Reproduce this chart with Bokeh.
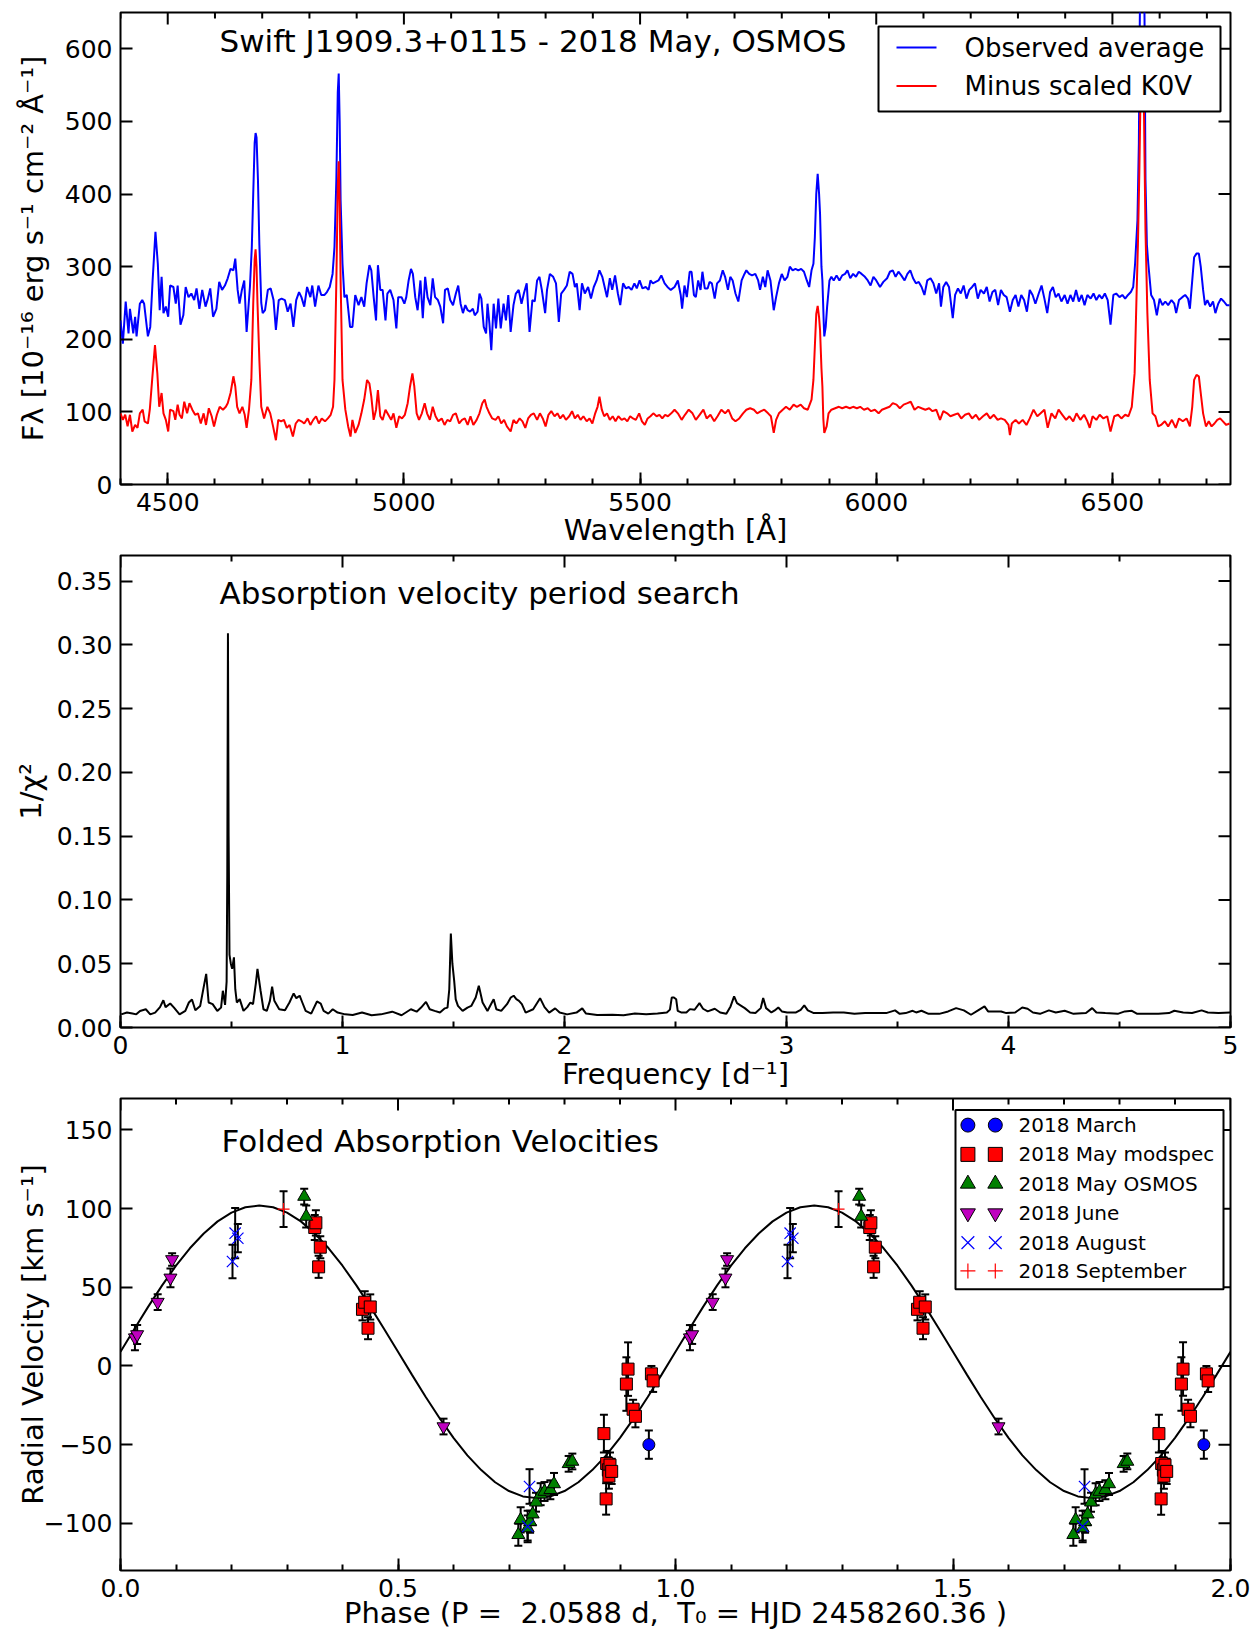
import math
from bokeh.plotting import figure
from bokeh.models import (Label, SingleIntervalTicker, NumeralTickFormatter,
                          CustomJSTickFormatter, Whisker, TeeHead, ColumnDataSource, Range1d)
from bokeh.layouts import column
from bokeh.embed import file_html
from bokeh.resources import INLINE

# ------------------------------------------------------------------ data
blue_wave = [4400, 4405, 4411, 4417, 4420, 4427, 4431, 4434, 4441, 4446, 4450, 4458, 4463, 4468, 4474, 4479, 4483, 4487, 4491, 4496,
             4501, 4505, 4512, 4517, 4521, 4527, 4533, 4538, 4544, 4550, 4556, 4561, 4567, 4573, 4580, 4585, 4590, 4596, 4603, 4609,
             4615, 4621, 4627, 4633, 4639, 4643, 4648, 4652, 4657, 4662, 4667, 4674, 4678, 4681, 4684, 4686, 4688, 4691, 4694, 4698,
             4701, 4706, 4712, 4718, 4724, 4729, 4735, 4741, 4748, 4754, 4760, 4766, 4772, 4778, 4783, 4789, 4795, 4802, 4806, 4812,
             4819, 4825, 4832, 4837, 4843, 4849, 4853, 4857, 4860, 4862, 4864, 4866, 4870, 4874, 4879, 4886, 4891, 4897, 4904, 4910,
             4916, 4921, 4927, 4931, 4936, 4941, 4945, 4950, 4955, 4961, 4965, 4971, 4978, 4984, 4988, 4995, 5001, 5005, 5010, 5015,
             5019, 5024, 5029, 5035, 5040, 5045, 5050, 5056, 5061, 5066, 5072, 5077, 5083, 5087, 5093, 5098, 5104, 5110, 5115, 5120,
             5125, 5130, 5135, 5140, 5146, 5150, 5156, 5160, 5164, 5169, 5174, 5177, 5181, 5185, 5190, 5195, 5200, 5205, 5211, 5216,
             5221, 5226, 5232, 5237, 5243, 5249, 5254, 5260, 5266, 5272, 5277, 5282, 5287, 5292, 5299, 5303, 5309, 5316, 5322, 5328,
             5333, 5339, 5345, 5351, 5357, 5362, 5366, 5372, 5377, 5383, 5390, 5396, 5402, 5408, 5414, 5420, 5425, 5430, 5436, 5441,
             5447, 5453, 5458, 5464, 5470, 5476, 5482, 5488, 5493, 5499, 5505, 5512, 5518, 5522, 5527, 5533, 5539, 5545, 5552, 5558,
             5565, 5573, 5580, 5586, 5589, 5594, 5599, 5605, 5609, 5614, 5618, 5623, 5628, 5632, 5637, 5643, 5647, 5652, 5658, 5663,
             5669, 5675, 5680, 5686, 5691, 5696, 5702, 5708, 5715, 5721, 5725, 5731, 5737, 5744, 5750, 5754, 5760, 5765, 5770, 5776,
             5783, 5788, 5794, 5800, 5806, 5812, 5817, 5823, 5829, 5835, 5841, 5847, 5853, 5858, 5863, 5867, 5870, 5873, 5876, 5879,
             5881, 5884, 5886, 5889, 5890, 5893, 5896, 5901, 5905, 5910, 5916, 5922, 5928, 5934, 5939, 5945, 5951, 5957, 5963, 5969,
             5976, 5982, 5988, 5994, 6000, 6008, 6015, 6023, 6029, 6035, 6041, 6047, 6053, 6060, 6066, 6072, 6078, 6084, 6090, 6096,
             6102, 6108, 6115, 6121, 6127, 6133, 6137, 6142, 6148, 6154, 6162, 6167, 6173, 6179, 6185, 6191, 6197, 6203, 6209, 6215,
             6221, 6228, 6234, 6240, 6246, 6252, 6258, 6264, 6270, 6276, 6283, 6289, 6295, 6301, 6307, 6313, 6319, 6325, 6331, 6337,
             6344, 6350, 6356, 6362, 6368, 6374, 6380, 6386, 6392, 6399, 6405, 6411, 6417, 6423, 6429, 6435, 6441, 6447, 6454, 6460,
             6466, 6472, 6478, 6484, 6490, 6496, 6502, 6508, 6515, 6521, 6527, 6533, 6539, 6544, 6548, 6553, 6556, 6558, 6560, 6563,
             6566, 6568, 6570, 6573, 6576, 6582, 6588, 6594, 6600, 6606, 6612, 6618, 6625, 6631, 6635, 6641, 6648, 6654, 6660, 6664,
             6669, 6673, 6678, 6683, 6687, 6692, 6696, 6701, 6707, 6713, 6718, 6724, 6730, 6736, 6742, 6748]
blue_flux = [226, 194, 252, 208, 242, 208, 231, 204, 249, 254, 249, 204, 217, 281, 348, 304, 240, 286, 236, 245,
             231, 274, 272, 249, 274, 220, 233, 272, 258, 263, 254, 270, 242, 268, 245, 256, 270, 231, 242, 279,
             268, 274, 284, 297, 295, 311, 268, 249, 268, 281, 210, 272, 327, 400, 470, 484, 478, 420, 330, 250,
             236, 240, 268, 270, 254, 213, 254, 256, 254, 238, 249, 217, 254, 265, 258, 245, 272, 258, 274, 245,
             274, 261, 261, 265, 272, 290, 327, 420, 540, 566, 500, 391, 304, 258, 261, 217, 217, 261, 247, 258,
             245, 277, 302, 295, 258, 226, 302, 268, 268, 226, 263, 268, 254, 215, 258, 258, 249, 258, 281, 297,
             290, 258, 240, 281, 229, 286, 258, 247, 284, 258, 254, 245, 222, 268, 270, 254, 247, 263, 274, 249,
             236, 247, 240, 238, 242, 233, 238, 263, 256, 217, 208, 249, 222, 185, 249, 215, 256, 215, 249, 226,
             261, 210, 247, 263, 268, 249, 263, 277, 210, 254, 252, 281, 286, 268, 236, 268, 290, 286, 277, 224,
             263, 268, 274, 293, 290, 272, 277, 240, 277, 263, 272, 256, 272, 281, 295, 286, 272, 258, 284, 268,
             288, 263, 247, 277, 270, 272, 268, 277, 270, 281, 270, 272, 268, 281, 277, 279, 281, 288, 277, 272,
             268, 272, 281, 261, 242, 274, 258, 293, 293, 261, 258, 281, 268, 293, 270, 270, 279, 277, 256, 277,
             281, 295, 286, 268, 286, 281, 263, 252, 281, 290, 295, 290, 288, 290, 281, 268, 286, 272, 295, 281,
             240, 258, 277, 290, 281, 286, 300, 295, 297, 295, 297, 293, 281, 272, 295, 304, 340, 400, 428, 400,
             373, 300, 281, 220, 204, 217, 245, 281, 286, 281, 288, 281, 288, 290, 295, 284, 290, 286, 293, 290,
             286, 281, 274, 286, 281, 272, 279, 284, 293, 295, 286, 293, 288, 281, 290, 295, 284, 277, 279, 272,
             261, 281, 284, 277, 263, 277, 245, 272, 279, 272, 229, 261, 270, 263, 274, 256, 268, 272, 277, 256,
             268, 263, 272, 252, 265, 268, 247, 268, 261, 258, 238, 254, 261, 245, 261, 254, 238, 268, 261, 249,
             263, 274, 256, 236, 265, 272, 258, 263, 252, 261, 249, 261, 252, 268, 252, 261, 247, 261, 256, 263,
             254, 261, 256, 263, 254, 220, 261, 263, 258, 261, 256, 261, 265, 272, 304, 364, 470, 640, 760, 800,
             760, 640, 420, 330, 304, 261, 254, 233, 256, 247, 252, 247, 254, 249, 236, 254, 258, 261, 256, 242,
             281, 313, 318, 318, 300, 268, 247, 254, 245, 252, 236, 249, 256, 252, 247, 247]

red_wave = [4400, 4405, 4410, 4415, 4420, 4425, 4431, 4436, 4441, 4447, 4451, 4458, 4462, 4467, 4473, 4478, 4482, 4487, 4491, 4496,
            4501, 4505, 4512, 4516, 4521, 4525, 4530, 4535, 4541, 4546, 4552, 4558, 4564, 4570, 4576, 4581, 4587, 4593, 4598, 4604,
            4610, 4617, 4623, 4627, 4633, 4639, 4643, 4647, 4652, 4658, 4663, 4667, 4672, 4677, 4681, 4684, 4686, 4688, 4690, 4694,
            4698, 4704, 4711, 4717, 4723, 4729, 4734, 4740, 4746, 4752, 4758, 4765, 4771, 4777, 4783, 4789, 4796, 4802, 4808, 4814,
            4820, 4826, 4833, 4839, 4845, 4850, 4853, 4857, 4860, 4862, 4864, 4866, 4870, 4876, 4882, 4887, 4891, 4897, 4904, 4910,
            4916, 4922, 4927, 4931, 4936, 4941, 4945, 4950, 4955, 4961, 4967, 4973, 4978, 4984, 4990, 4996, 5002, 5008, 5013, 5018,
            5022, 5027, 5032, 5038, 5044, 5049, 5055, 5061, 5067, 5073, 5080, 5086, 5092, 5098, 5104, 5110, 5117, 5123, 5129, 5135,
            5141, 5147, 5154, 5160, 5166, 5171, 5175, 5181, 5187, 5194, 5200, 5206, 5212, 5218, 5226, 5232, 5238, 5245, 5251, 5257,
            5263, 5269, 5275, 5282, 5288, 5294, 5300, 5306, 5312, 5319, 5325, 5331, 5337, 5343, 5350, 5356, 5362, 5368, 5374, 5380,
            5387, 5393, 5399, 5405, 5410, 5414, 5419, 5424, 5430, 5436, 5442, 5448, 5454, 5461, 5467, 5473, 5479, 5485, 5491, 5498,
            5504, 5510, 5516, 5522, 5528, 5535, 5541, 5547, 5553, 5559, 5566, 5573, 5580, 5588, 5595, 5603, 5611, 5618, 5626, 5634,
            5641, 5649, 5657, 5664, 5672, 5680, 5687, 5695, 5702, 5710, 5718, 5725, 5733, 5741, 5748, 5756, 5763, 5771, 5777, 5783,
            5788, 5794, 5802, 5809, 5817, 5825, 5832, 5840, 5847, 5855, 5863, 5867, 5870, 5873, 5876, 5879, 5881, 5884, 5886, 5888,
            5890, 5895, 5899, 5905, 5913, 5921, 5928, 5936, 5944, 5951, 5959, 5966, 5974, 5982, 5989, 5997, 6005, 6012, 6020, 6028,
            6035, 6043, 6050, 6058, 6066, 6073, 6081, 6089, 6096, 6104, 6112, 6119, 6127, 6135, 6142, 6150, 6157, 6165, 6173, 6180,
            6188, 6196, 6203, 6211, 6218, 6226, 6234, 6241, 6249, 6257, 6264, 6272, 6280, 6283, 6287, 6295, 6302, 6310, 6318, 6325,
            6333, 6341, 6348, 6356, 6363, 6371, 6379, 6386, 6394, 6402, 6409, 6417, 6424, 6432, 6440, 6447, 6452, 6458, 6466, 6473,
            6481, 6489, 6496, 6504, 6512, 6519, 6527, 6534, 6541, 6547, 6551, 6554, 6557, 6560, 6563, 6566, 6568, 6570, 6574, 6579,
            6585, 6591, 6597, 6603, 6611, 6618, 6626, 6634, 6641, 6649, 6657, 6664, 6669, 6673, 6678, 6683, 6687, 6692, 6698, 6704,
            6710, 6716, 6722, 6728, 6734, 6741, 6748]
red_flux = [98, 89, 96, 80, 96, 73, 82, 78, 98, 103, 87, 84, 103, 144, 192, 153, 107, 126, 98, 89,
            73, 103, 101, 89, 110, 96, 91, 114, 98, 112, 103, 96, 98, 84, 98, 82, 105, 94, 80, 96,
            107, 103, 107, 112, 126, 149, 135, 107, 98, 107, 96, 78, 103, 144, 249, 310, 324, 300, 250, 171,
            107, 91, 107, 98, 80, 61, 89, 87, 89, 78, 82, 66, 84, 89, 87, 84, 91, 82, 89, 94,
            84, 91, 87, 91, 96, 107, 144, 281, 410, 445, 390, 281, 144, 103, 80, 66, 89, 71, 82, 98,
            117, 144, 139, 121, 89, 103, 130, 94, 89, 103, 96, 89, 98, 78, 94, 91, 96, 112, 135, 153,
            135, 98, 89, 98, 112, 98, 89, 107, 94, 87, 91, 82, 89, 87, 96, 98, 84, 89, 91, 82,
            94, 82, 89, 98, 112, 117, 107, 98, 91, 89, 94, 84, 89, 80, 73, 89, 84, 91, 87, 78,
            91, 96, 98, 89, 98, 91, 80, 96, 101, 94, 98, 91, 96, 89, 94, 101, 91, 96, 89, 94,
            87, 91, 84, 98, 107, 121, 103, 94, 98, 89, 94, 87, 94, 89, 91, 87, 94, 91, 89, 98,
            87, 82, 91, 94, 98, 94, 96, 91, 96, 94, 98, 103, 98, 89, 96, 103, 98, 89, 96, 103,
            91, 96, 87, 94, 103, 98, 103, 91, 87, 91, 98, 103, 105, 103, 98, 101, 103, 98, 94, 71,
            89, 98, 103, 107, 103, 110, 107, 110, 105, 103, 117, 144, 190, 235, 246, 230, 213, 160, 135, 90,
            71, 80, 98, 103, 105, 107, 105, 107, 105, 107, 105, 107, 103, 105, 101, 103, 98, 103, 105, 107,
            112, 110, 105, 110, 112, 114, 103, 107, 105, 103, 105, 101, 103, 89, 101, 98, 94, 96, 98, 91,
            96, 98, 91, 96, 89, 94, 98, 91, 96, 89, 91, 89, 82, 68, 84, 89, 84, 89, 82, 91,
            103, 94, 98, 103, 78, 98, 91, 103, 96, 89, 94, 87, 98, 89, 96, 87, 78, 94, 89, 96,
            91, 94, 73, 94, 96, 91, 96, 94, 107, 153, 258, 330, 430, 560, 610, 560, 450, 350, 236, 144,
            98, 94, 80, 82, 87, 80, 89, 78, 91, 87, 91, 80, 107, 144, 151, 149, 126, 98, 80, 87,
            80, 84, 89, 91, 87, 82, 84]

freq = [0.003, 0.029, 0.054, 0.071, 0.088, 0.114, 0.134, 0.156, 0.178, 0.193, 0.203, 0.224, 0.241, 0.266, 0.292, 0.308,
        0.322, 0.337, 0.359, 0.373, 0.386, 0.397, 0.415, 0.436, 0.453, 0.461, 0.471, 0.478, 0.481, 0.484, 0.487, 0.491,
        0.497, 0.503, 0.511, 0.517, 0.524, 0.537, 0.554, 0.571, 0.585, 0.597, 0.610, 0.617, 0.631, 0.644, 0.659, 0.673,
        0.683, 0.693, 0.715, 0.741, 0.761, 0.780, 0.792, 0.807, 0.819, 0.834, 0.859, 0.885, 0.902, 0.915, 0.936, 0.956,
        0.978, 1.012, 1.046, 1.088, 1.131, 1.173, 1.224, 1.266, 1.308, 1.334, 1.354, 1.376, 1.393, 1.415, 1.439, 1.461,
        1.473, 1.481, 1.488, 1.495, 1.503, 1.510, 1.520, 1.541, 1.563, 1.580, 1.600, 1.614, 1.631, 1.653, 1.673, 1.681,
        1.693, 1.715, 1.741, 1.758, 1.771, 1.783, 1.795, 1.808, 1.825, 1.859, 1.890, 1.910, 1.931, 1.958, 1.978, 2.012,
        2.054, 2.080, 2.097, 2.147, 2.215, 2.266, 2.317, 2.368, 2.419, 2.461, 2.475, 2.483, 2.493, 2.503, 2.510, 2.525,
        2.549, 2.565, 2.586, 2.608, 2.624, 2.645, 2.677, 2.701, 2.729, 2.748, 2.764, 2.777, 2.796, 2.812, 2.836, 2.860,
        2.884, 2.895, 2.908, 2.932, 2.947, 2.963, 2.979, 3.003, 3.043, 3.064, 3.080, 3.096, 3.123, 3.162, 3.210, 3.258,
        3.306, 3.354, 3.409, 3.449, 3.489, 3.510, 3.537, 3.568, 3.584, 3.608, 3.640, 3.688, 3.728, 3.764, 3.799, 3.831,
        3.863, 3.892, 3.908, 3.935, 3.967, 3.990, 4.030, 4.062, 4.086, 4.110, 4.142, 4.182, 4.213, 4.253, 4.293, 4.349,
        4.377, 4.396, 4.436, 4.492, 4.524, 4.556, 4.580, 4.627, 4.675, 4.723, 4.747, 4.787, 4.827, 4.870, 4.898, 4.946,
        5.000]
power = [0.0103, 0.0117, 0.0109, 0.0103, 0.0130, 0.0143, 0.0103, 0.0117, 0.0160, 0.0214, 0.0160, 0.0188, 0.0156, 0.0103, 0.0130, 0.0196,
         0.0220, 0.0135, 0.0169, 0.0301, 0.0420, 0.0196, 0.0183, 0.0130, 0.0156, 0.0288, 0.0177, 0.0360, 0.1200, 0.3090, 0.1500, 0.0570,
         0.0500, 0.0460, 0.0550, 0.0300, 0.0196, 0.0222, 0.0130, 0.0160, 0.0196, 0.0183, 0.0350, 0.0459, 0.0288, 0.0143, 0.0130, 0.0209,
         0.0320, 0.0209, 0.0143, 0.0135, 0.0196, 0.0267, 0.0230, 0.0249, 0.0196, 0.0130, 0.0109, 0.0204, 0.0188, 0.0130, 0.0109, 0.0143,
         0.0117, 0.0103, 0.0098, 0.0117, 0.0096, 0.0103, 0.0124, 0.0096, 0.0143, 0.0124, 0.0156, 0.0201, 0.0143, 0.0130, 0.0117, 0.0150,
         0.0156, 0.0300, 0.0737, 0.0500, 0.0367, 0.0220, 0.0169, 0.0130, 0.0156, 0.0169, 0.0235, 0.0328, 0.0196, 0.0130, 0.0196, 0.0222,
         0.0143, 0.0130, 0.0183, 0.0235, 0.0249, 0.0222, 0.0209, 0.0183, 0.0117, 0.0143, 0.0230, 0.0160, 0.0117, 0.0150, 0.0117, 0.0103,
         0.0117, 0.0150, 0.0109, 0.0098, 0.0100, 0.0096, 0.0109, 0.0103, 0.0109, 0.0117, 0.0140, 0.0235, 0.0235, 0.0222, 0.0130, 0.0118,
         0.0118, 0.0144, 0.0139, 0.0191, 0.0147, 0.0126, 0.0147, 0.0118, 0.0107, 0.0165, 0.0244, 0.0191, 0.0170, 0.0152, 0.0118, 0.0113,
         0.0152, 0.0231, 0.0152, 0.0118, 0.0134, 0.0157, 0.0126, 0.0118, 0.0118, 0.0139, 0.0173, 0.0134, 0.0113, 0.0113, 0.0118, 0.0118,
         0.0107, 0.0113, 0.0113, 0.0113, 0.0134, 0.0107, 0.0113, 0.0131, 0.0118, 0.0131, 0.0107, 0.0107, 0.0126, 0.0152, 0.0134, 0.0100,
         0.0134, 0.0165, 0.0126, 0.0126, 0.0126, 0.0113, 0.0118, 0.0157, 0.0147, 0.0118, 0.0107, 0.0134, 0.0118, 0.0131, 0.0107, 0.0113,
         0.0152, 0.0118, 0.0113, 0.0107, 0.0126, 0.0131, 0.0107, 0.0107, 0.0107, 0.0113, 0.0131, 0.0118, 0.0113, 0.0134, 0.0118, 0.0113,
         0.0118]

# fitted radial-velocity curve, one cycle (phase, km/s), repeated for the second cycle
fit_phase = [0.000, 0.025, 0.050, 0.075, 0.100, 0.125, 0.150, 0.175, 0.200, 0.225, 0.250, 0.275, 0.300, 0.325,
             0.350, 0.375, 0.400, 0.425, 0.450, 0.475, 0.500, 0.525, 0.550, 0.575, 0.600, 0.625, 0.650, 0.675,
             0.700, 0.725, 0.750, 0.775, 0.800, 0.825, 0.850, 0.875, 0.900, 0.925, 0.950, 0.975, 1.000]
fit_rv = [9.0, 23.5, 37.7, 51.2, 63.7, 74.8, 84.2, 91.9, 97.5, 100.9, 102.0, 100.9, 97.5, 91.9,
          84.2, 74.8, 63.7, 51.2, 37.7, 23.5, 9.0, -5.5, -19.7, -33.2, -45.7, -56.8, -66.2, -73.9,
          -79.5, -82.9, -84.0, -82.9, -79.5, -73.9, -66.2, -56.8, -45.7, -33.2, -19.7, -5.5, 9.0]

march_phase = [0.952]
march_rv = [-50.0]
march_err = [9.0]

modspec_phase = [0.350, 0.352, 0.360, 0.357, 0.436, 0.440, 0.446, 0.450, 0.871, 0.876, 0.879, 0.882, 0.880, 0.885,
                 0.875, 0.9115, 0.9145, 0.9236, 0.9278, 0.9566, 0.9597]
modspec_rv = [88.0, 91.0, 75.5, 63.0, 36.0, 40.5, 24.0, 37.5, -43.0, -62.0, -66.0, -63.0, -70.0, -67.0,
              -84.5, -11.5, -2.0, -27.5, -32.0, -5.0, -9.5]
modspec_err = [8, 8, 7, 7, 7, 7, 7, 8, 12, 8, 8, 8, 8, 8, 10, 17, 17, 6, 7, 5, 7]

osmos_phase = [0.331, 0.3346, 0.7168, 0.721, 0.7336, 0.738, 0.7427, 0.7487, 0.757, 0.764, 0.7745, 0.7811, 0.8075, 0.8141]
osmos_rv = [107.7, 95.0, -107.3, -97.8, -103.0, -99.0, -94.2, -86.6, -81.5, -79.8, -78.7, -75.0, -62.2, -60.7]
osmos_err = [5, 7, 7, 8, 8, 7, 7, 6, 7, 6, 6, 7, 5, 5]

june_phase = [0.026, 0.030, 0.067, 0.090, 0.093, 0.582]
june_rv = [18.0, 20.0, 40.6, 56.0, 67.7, -38.5]
june_err = [8, 6, 5, 6, 4, 5]

august_phase = [0.2018, 0.2066, 0.2114, 0.737, 0.7336]
august_rv = [66.4, 84.4, 81.2, -76.6, -102.0]
august_err = [10.6, 16.0, 9.0, 11.0, 10.0]

september_phase = [0.2938]
september_rv = [99.7]
september_err = [11.4]

# ------------------------------------------------------------------ layout helpers
FONT = "DejaVu Sans"
PAGE_W = 1252
FL, FR = 120, 1230          # frame left / right (page px)
FH = 472                    # frame height
NBSP = "\u00a0"


def dx(px, xr):
    return xr[0] + (px - FL) * (xr[1] - xr[0]) / (FR - FL)


def dy(py, ftop, yr):
    return yr[1] - (py - ftop) * (yr[1] - yr[0]) / FH


def style_axis(ax, ticker, formatter, label, label_standoff):
    ax.ticker = ticker
    ax.formatter = formatter
    ax.major_tick_in = 12
    ax.major_tick_out = 0
    ax.minor_tick_in = 6
    ax.minor_tick_out = 0
    ax.major_tick_line_width = 2
    ax.minor_tick_line_width = 2
    ax.major_tick_line_color = "black"
    ax.minor_tick_line_color = "black"
    ax.axis_line_color = None
    ax.major_label_text_font = FONT
    ax.major_label_text_color = "black"
    ax.major_label_text_font_size = "25px"
    ax.major_label_standoff = 8
    ax.axis_label = label
    ax.axis_label_text_font = FONT
    ax.axis_label_text_font_size = "29px"
    ax.axis_label_text_font_style = "normal"
    ax.axis_label_text_color = "black"
    ax.axis_label_standoff = label_standoff


def make_fig(height, xr, yr, top, bottom):
    p = figure(width=PAGE_W, height=height, x_range=Range1d(*xr), y_range=Range1d(*yr),
               output_backend="svg", toolbar_location=None,
               min_border_left=FL, min_border_right=PAGE_W - FR, min_border_top=top,
               min_border_bottom=bottom)
    p.xgrid.visible = False
    p.ygrid.visible = False
    p.outline_line_color = "black"
    p.outline_line_width = 2
    p.outline_line_alpha = 1.0
    p.background_fill_color = "white"
    p.border_fill_color = "white"
    return p


def steps(lo, hi, step):
    n0 = math.ceil(lo / step - 1e-9)
    n1 = math.floor(hi / step + 1e-9)
    return [round(k * step, 6) for k in range(n0, n1 + 1)]


def mirror_ticks(p, xr, yr, xmaj, xminor_step, ymaj):
    """Inward tick marks on the top and right frame edges (labels only on bottom/left)."""
    ux = (xr[1] - xr[0]) / (FR - FL)
    uy = (yr[1] - yr[0]) / FH
    xs_major = steps(xr[0], xr[1], xmaj)
    xs_minor = [v for v in steps(xr[0], xr[1], xminor_step) if v not in xs_major] if xminor_step else []
    for xs, ln in ((xs_major, 12), (xs_minor, 6)):
        if xs:
            p.segment(x0=xs, x1=xs, y0=[yr[1]] * len(xs), y1=[yr[1] - ln * uy] * len(xs),
                      line_color="black", line_width=2)
    ys = steps(yr[0], yr[1], ymaj)
    p.segment(x0=[xr[1]] * len(ys), x1=[xr[1] - 12 * ux] * len(ys), y0=ys, y1=ys,
              line_color="black", line_width=2)


def label(p, x, y, text, size, align="left", baseline="middle"):
    p.add_layout(Label(x=x, y=y, text=text, text_font=FONT, text_font_size=size,
                       text_align=align, text_baseline=baseline, text_color="black"))


# ------------------------------------------------------------------ panel 1: spectrum
XR1, YR1, T1 = (4400, 6750), (0, 650), 12
p1 = make_fig(554, XR1, YR1, 12, 70)
style_axis(p1.xaxis[0], SingleIntervalTicker(interval=500, num_minor_ticks=5), NumeralTickFormatter(format="0"),
           "Wavelength [Å]", -1)
style_axis(p1.yaxis[0], SingleIntervalTicker(interval=100, num_minor_ticks=0), NumeralTickFormatter(format="0"),
           "Fλ [10⁻¹⁶ erg s⁻¹ cm⁻² Å⁻¹]", 12)
mirror_ticks(p1, XR1, YR1, 500, 100, 100)
p1.line(blue_wave, blue_flux, line_color="#0000ff", line_width=2)
p1.line(red_wave, red_flux, line_color="#ff0000", line_width=2)

# legend box (drawn over the data, like the original)
p1.quad(left=dx(878, XR1), right=dx(1220, XR1), top=dy(26, T1, YR1), bottom=dy(111, T1, YR1),
        fill_color="white", line_color="black", line_width=2)
for py, col, txt in [(47, "#0000ff", "Observed average"), (85.4, "#ff0000", "Minus scaled K0V")]:
    p1.segment(x0=[dx(896, XR1)], x1=[dx(936, XR1)], y0=[dy(py, T1, YR1)], y1=[dy(py, T1, YR1)],
               line_color=col, line_width=2)
    label(p1, dx(964, XR1), dy(py, T1, YR1), txt, "26px")

label(p1, dx(219, XR1), dy(40, T1, YR1), "Swift J1909.3+0115 - 2018 May, OSMOS", "31px")

# ------------------------------------------------------------------ panel 2: periodogram
XR2, YR2, T2 = (0, 5), (0, 0.37), 555
p2 = make_fig(543, XR2, YR2, 1, 70)
style_axis(p2.xaxis[0], SingleIntervalTicker(interval=1, num_minor_ticks=2), NumeralTickFormatter(format="0"),
           "Frequency [d⁻¹]", 0)
style_axis(p2.yaxis[0], SingleIntervalTicker(interval=0.05, num_minor_ticks=0), NumeralTickFormatter(format="0.00"),
           "1/χ²", 6)
mirror_ticks(p2, XR2, YR2, 1, 0.5, 0.05)
p2.line(freq, power, line_color="black", line_width=2)
label(p2, dx(219, XR2), dy(592, T2, YR2), "Absorption velocity period search", "31px")

# ------------------------------------------------------------------ panel 3: folded velocities
XR3, YR3, T3 = (0, 2), (-130, 170), 1098
p3 = make_fig(535, XR3, YR3, 1, 62)
style_axis(p3.xaxis[0], SingleIntervalTicker(interval=0.5, num_minor_ticks=5), NumeralTickFormatter(format="0.0"),
           "Phase (P =" + NBSP + " 2.0588 d," + NBSP + " T₀ = HJD 2458260.36 )", -4)
style_axis(p3.yaxis[0], SingleIntervalTicker(interval=50, num_minor_ticks=0),
           CustomJSTickFormatter(code="return String(Math.round(tick)).replace('-', '\u2212');"),
           "Radial Velocity [km s⁻¹]", -9)
mirror_ticks(p3, XR3, YR3, 0.5, 0.1, 50)

curve_x = fit_phase + [ph + 1 for ph in fit_phase[1:]]
curve_y = fit_rv + fit_rv[1:]

# (phase, rv, err, marker, colour, size in plot, size in legend, name)
series = [
    (march_phase, march_rv, march_err, "circle", "#0000ff", 12, 14, "2018 March"),
    (modspec_phase, modspec_rv, modspec_err, "square", "#ff0000", 12, 14, "2018 May modspec"),
    (osmos_phase, osmos_rv, osmos_err, "triangle", "#008000", 13, 15, "2018 May OSMOS"),
    (june_phase, june_rv, june_err, "inverted_triangle", "#bf00bf", 13, 15, "2018 June"),
    (august_phase, august_rv, august_err, "x", "#0000ff", 16, 18, "2018 August"),
    (september_phase, september_rv, september_err, "cross", "#ff0000", 12, 15, "2018 September"),
]

# error bars (each point shown at phase and phase + 1)
wx, wlo, whi = [], [], []
for ph, rv, er, *_ in series:
    for a, b, c in zip(ph, rv, er):
        for shift in (0, 1):
            wx.append(a + shift)
            wlo.append(b - c)
            whi.append(b + c)
wsrc = ColumnDataSource(dict(x=wx, lower=wlo, upper=whi))
p3.add_layout(Whisker(source=wsrc, base="x", lower="lower", upper="upper", dimension="height",
                      line_color="black", line_width=2, level="underlay",
                      upper_head=TeeHead(size=8, line_color="black", line_width=2),
                      lower_head=TeeHead(size=8, line_color="black", line_width=2)))

p3.line(curve_x, curve_y, line_color="black", line_width=2)


def markers(xs, ys, mk, col, sz):
    if mk in ("x", "cross"):
        p3.scatter(xs, ys, marker=mk, size=sz, line_color=col, line_width=1.2)
    else:
        p3.scatter(xs, ys, marker=mk, size=sz, fill_color=col, line_color="black", line_width=1)


for ph, rv, er, mk, col, sz, lsz, name in series:
    markers(list(ph) + [a + 1 for a in ph], list(rv) + list(rv), mk, col, sz)

# legend
p3.quad(left=dx(955, XR3), right=dx(1223, XR3), top=dy(1109.6, T3, YR3), bottom=dy(1288.7, T3, YR3),
        fill_color="white", line_color="black", line_width=2)
rows = [1124.6, 1153.9, 1183.3, 1212.7, 1242.1, 1270.4]
for py, (ph, rv, er, mk, col, sz, lsz, name) in zip(rows, series):
    markers([dx(967.4, XR3), dx(994.8, XR3)], [dy(py, T3, YR3)] * 2, mk, col, lsz)
    label(p3, dx(1018, XR3), dy(py, T3, YR3), name, "20px")

label(p3, dx(221, XR3), dy(1140, T3, YR3), "Folded Absorption Velocities", "31px")

layout = column(p1, p2, p3, spacing=0)
open("out.html", "w").write(file_html(layout, INLINE))
